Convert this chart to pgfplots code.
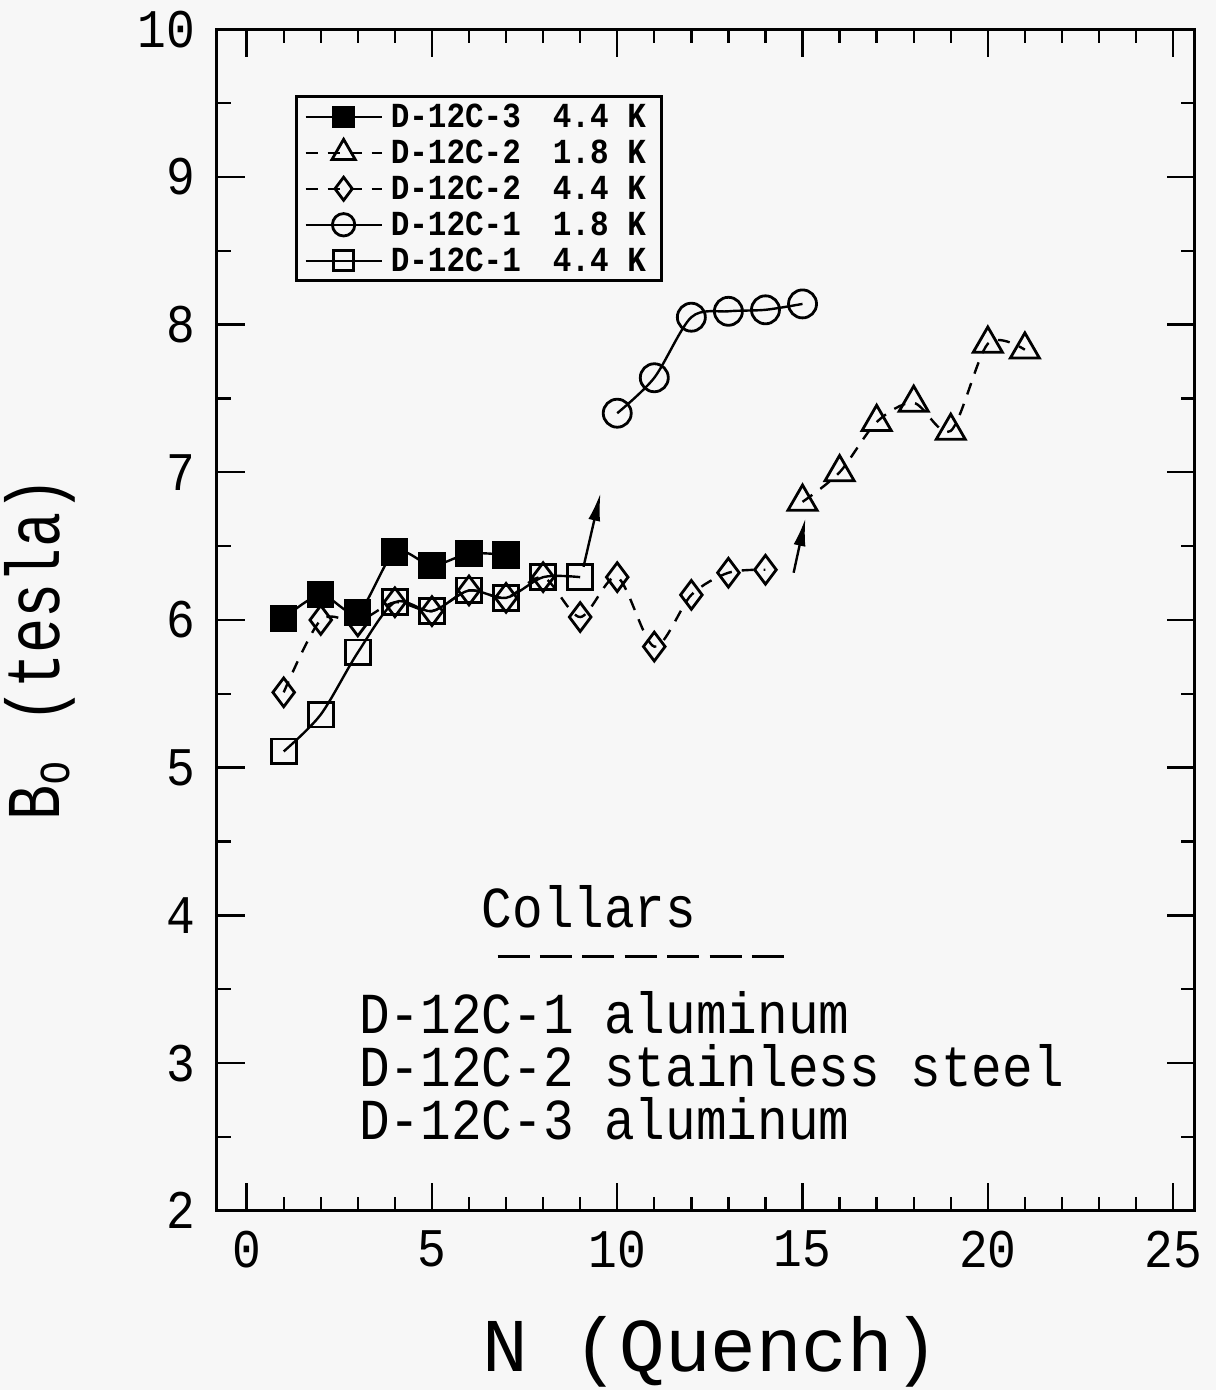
\documentclass[border=0pt]{standalone}
\usepackage{fontspec}
\setmainfont{Liberation Mono}[FakeStretch=0.88]
\newfontfamily\xlabfont{Liberation Mono}
\newfontfamily\ylabfont{Liberation Mono}[FakeStretch=0.77]
\usepackage{xcolor}
\usepackage{pgfplots}
\pgfplotsset{compat=1.18}
\usetikzlibrary{arrows.meta}
\definecolor{bgc}{HTML}{F7F7F7}
\pagecolor{bgc}

\begin{document}
\begin{tikzpicture}
\begin{axis}[
  scale only axis,
  width=244.4pt, height=295.4pt,
  xmin=-0.8, xmax=25.58, ymin=2, ymax=10,
  xtick={0,5,...,25}, ytick={2,3,...,10},
  minor x tick num=4, minor y tick num=1,
  tick align=inside, xtick pos=both, ytick pos=both,
  xticklabel pos=lower, yticklabel pos=left,
  major tick length=7pt, minor tick length=3.5pt,
  axis line style={line width=0.75pt},
  every tick/.style={black, line width=0.6pt},
  /pgf/number format/assume math mode=true,
  ticklabel style={font=\fontsize{13.6}{15}\selectfont},
  yticklabel style={xshift=-2pt},
  xticklabel style={yshift=-1.5pt},
  xlabel={\xlabfont N (Quench)},
  ylabel={\ylabfont B\textsubscript{o} (tesla)},
  label style={font=\fontsize{19}{22}\selectfont},
  xlabel style={at={(axis description cs:0.505,-0.1364)}, anchor=base},
  ylabel style={at={(axis description cs:-0.161,0.4755)}, anchor=base},
  legend style={at={(0.0798,0.944)}, anchor=north west, draw=black,
    line width=0.7pt, fill=bgc, font=\bfseries\fontsize{8.8}{9}\selectfont,
    row sep=2pt, inner xsep=2pt, inner ysep=1.5pt,
    nodes={inner ysep=0pt, inner xsep=2pt, text height=6.2pt, text depth=0.8pt}},
  legend cell align=left,
  legend image code/.code={\draw[mark repeat=2,mark phase=2,#1]
    plot coordinates {(0pt,0pt) (9.5pt,0pt) (19pt,0pt)};},
  legend image post style={every mark/.append style={scale=0.8}},
]
% D-12C-3 4.4 K
\addplot[black, line width=0.6pt, smooth, tension=0.5, mark=square*,
  mark size=3.1pt, mark options={solid, fill=black}] coordinates {
  (1,6.01) (2,6.17) (3,6.05) (4,6.46) (5,6.37) (6,6.45) (7,6.44)};
\addlegendentry{D-12C-3\hspace{8pt}4.4 K}
% D-12C-2 1.8 K
\addplot[black, line width=0.6pt, dash pattern=on 3pt off 2.5pt, smooth, tension=0.5,
  mark=triangle, mark size=4.2pt, mark options={solid, fill=bgc, line width=0.7pt}] coordinates {
  (15,6.80) (16,7.00) (17,7.34) (18,7.47) (19,7.28) (20,7.87) (21,7.83)};
\addlegendentry{D-12C-2\hspace{8pt}1.8 K}
% D-12C-2 4.4 K
\addplot[black, line width=0.6pt, dash pattern=on 3pt off 2.5pt, smooth, tension=0.5,
  mark=diamond, mark size=3.6pt, mark options={solid, fill=bgc, line width=0.7pt}] coordinates {
  (1,5.51) (2,6.00) (3,5.99) (4,6.12) (5,6.06) (6,6.20) (7,6.15) (8,6.29)
  (9,6.02) (10,6.29) (11,5.82) (12,6.17) (13,6.32) (14,6.34)};
\addlegendentry{D-12C-2\hspace{8pt}4.4 K}
% D-12C-1 1.8 K
\addplot[black, line width=0.6pt, smooth, tension=0.5,
  mark=o, mark size=3.5pt, mark options={solid, fill=bgc, line width=0.7pt}] coordinates {
  (10,7.40) (11,7.64) (12,8.05) (13,8.09) (14,8.10) (15,8.14)};
\addlegendentry{D-12C-1\hspace{8pt}1.8 K}
% D-12C-1 4.4 K
\addplot[black, line width=0.6pt, smooth, tension=0.5,
  mark=square, mark size=3.1pt, mark options={solid, fill=bgc, line width=0.7pt}] coordinates {
  (1,5.11) (2,5.36) (3,5.78) (4,6.12) (5,6.06) (6,6.20) (7,6.15) (8,6.29) (9,6.29)};
\addlegendentry{D-12C-1\hspace{8pt}4.4 K}

% arrows
\draw[-{Latex[length=7pt,width=3pt]}, line width=0.6pt] (axis cs:9.09,6.36) -- (axis cs:9.55,6.86);
\draw[-{Latex[length=7pt,width=3pt]}, line width=0.6pt] (axis cs:14.76,6.32) -- (axis cs:15.08,6.69);

% collars note
\node[anchor=base, font=\fontsize{14.5}{16}\selectfont, inner sep=0pt] at (axis cs:9.24,3.92) {Collars};
\draw[line width=0.8pt, dash pattern=on 8pt off 2.6pt] (axis cs:6.77,3.72) -- (axis cs:14.6,3.72);
\node[anchor=base west, font=\fontsize{14.5}{16}\selectfont, inner sep=0pt] at (axis cs:3.02,3.198) {D-12C-1 aluminum};
\node[anchor=base west, font=\fontsize{14.5}{16}\selectfont, inner sep=0pt] at (axis cs:3.02,2.839) {D-12C-2 stainless steel};
\node[anchor=base west, font=\fontsize{14.5}{16}\selectfont, inner sep=0pt] at (axis cs:3.02,2.480) {D-12C-3 aluminum};
\end{axis}
\pgfresetboundingbox
\path ([xshift=-54.25pt,yshift=7.3pt]current axis.north west) rectangle ([xshift=5.25pt,yshift=-44.8pt]current axis.south east);
\end{tikzpicture}
\end{document}
